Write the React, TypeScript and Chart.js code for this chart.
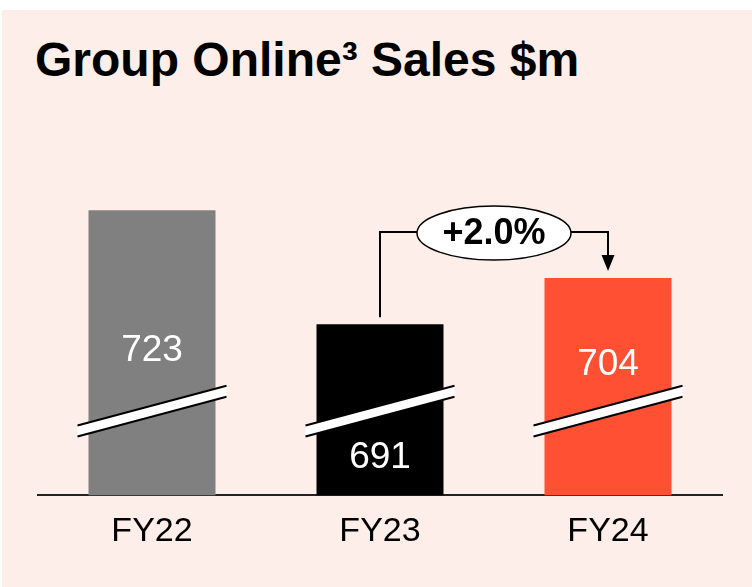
import React, { useEffect, useRef } from 'react';
import { Chart, registerables } from 'chart.js';

Chart.register(...registerables);

const categories = ['FY22', 'FY23', 'FY24'];
const salesValues = [723, 691, 704];
const barColors = ['#808080', '#000000', '#FF5033'];
const growthLabel = '+2.0%';
const titleText = 'Group Online³ Sales $m';
const axisMin = 643;
const axisMax = 754;
const breakValue = 666.6;

const FONT = '"Liberation Sans", Arial, sans-serif';

export default function App() {
  const ref = useRef<HTMLCanvasElement>(null);

  useEffect(() => {
    const canvas = ref.current!;
    const overlay = {
      id: 'overlay',
      afterDatasetsDraw(chart: any) {
        const ctx = chart.ctx as CanvasRenderingContext2D;
        const meta = chart.getDatasetMeta(0);
        const yScale = chart.scales.y;
        const breakY = yScale.getPixelForValue(breakValue);
        const slope = -40 / 150;
        const bars = meta.data.map((b: any) => b.getProps(['x', 'y', 'width'], true));
        bars.forEach((bar: any, i: number) => {
          const { x, y: top, width } = bar;
          const x0 = x - width / 2 - 11;
          const x1 = x + width / 2 + 11;
          const y0 = breakY + slope * (x0 - x);
          const y1 = breakY + slope * (x1 - x);
          const h = 5.5;
          ctx.save();
          ctx.beginPath();
          ctx.moveTo(x0, y0 - h);
          ctx.lineTo(x1, y1 - h);
          ctx.lineTo(x1, y1 + h);
          ctx.lineTo(x0, y0 + h);
          ctx.closePath();
          ctx.fillStyle = '#ffffff';
          ctx.fill();
          ctx.strokeStyle = '#000000';
          ctx.lineWidth = 2;
          ctx.beginPath();
          ctx.moveTo(x0, y0 - h);
          ctx.lineTo(x1, y1 - h);
          ctx.moveTo(x0, y0 + h);
          ctx.lineTo(x1, y1 + h);
          ctx.stroke();
          const labelY =
            breakY - top < 110 ? breakY + 47 : breakY - 20 - 0.2 * (breakY - top);
          ctx.fillStyle = '#ffffff';
          ctx.font = `37px ${FONT}`;
          ctx.textAlign = 'center';
          ctx.textBaseline = 'middle';
          ctx.fillText(String(salesValues[i]), x, labelY);
          ctx.restore();
        });

        // growth callout FY23 -> FY24
        const a = bars[1];
        const b = bars[2];
        const lineY = Math.min(a.y, b.y) - 46;
        const cx = (a.x + b.x) / 2;
        const cy = lineY + 1;
        const rx = 77;
        const ry = 27;
        ctx.save();
        ctx.strokeStyle = '#000000';
        ctx.lineWidth = 2;
        ctx.beginPath();
        ctx.moveTo(a.x, a.y - 7);
        ctx.lineTo(a.x, lineY);
        ctx.lineTo(cx - rx, lineY);
        ctx.moveTo(cx + rx, lineY);
        ctx.lineTo(b.x, lineY);
        ctx.lineTo(b.x, b.y - 22);
        ctx.stroke();
        ctx.beginPath();
        ctx.moveTo(b.x - 6.5, b.y - 23);
        ctx.lineTo(b.x + 6.5, b.y - 23);
        ctx.lineTo(b.x, b.y - 7);
        ctx.closePath();
        ctx.fillStyle = '#000000';
        ctx.fill();
        ctx.beginPath();
        ctx.ellipse(cx, cy, rx, ry, 0, 0, Math.PI * 2);
        ctx.fillStyle = '#ffffff';
        ctx.fill();
        ctx.lineWidth = 1.5;
        ctx.stroke();
        ctx.fillStyle = '#000000';
        ctx.font = `bold 36px ${FONT}`;
        ctx.textAlign = 'center';
        ctx.textBaseline = 'middle';
        ctx.fillText(growthLabel, cx, cy + 1);
        ctx.restore();
      },
    };

    const chart = new Chart(canvas, {
      type: 'bar',
      data: {
        labels: categories,
        datasets: [
          {
            data: salesValues,
            backgroundColor: barColors,
            borderWidth: 0,
            barPercentage: 0.557,
            categoryPercentage: 1,
          },
        ],
      },
      options: {
        responsive: false,
        animation: false,
        devicePixelRatio: 1,
        layout: { padding: { left: 38, right: 30, top: 100, bottom: 19 } },
        plugins: {
          legend: { display: false },
          title: { display: false },
          tooltip: { enabled: false },
        },
        scales: {
          x: {
            grid: { display: false, drawTicks: false },
            border: { display: true, color: '#222222', width: 2 },
            ticks: {
              color: '#000000',
              padding: 16,
              font: { family: FONT, size: 34 },
            },
          },
          y: {
            display: false,
            min: axisMin,
            max: axisMax,
          },
        },
      },
      plugins: [overlay],
    } as any);
    return () => chart.destroy();
  }, []);

  return (
    <div
      style={{
        position: 'fixed',
        left: 0,
        top: 0,
        width: 752,
        height: 587,
        background: '#ffffff',
        overflow: 'hidden',
      }}
    >
      <div
        style={{
          position: 'absolute',
          left: 2,
          top: 10,
          right: 0,
          bottom: 0,
          background: '#FDEEE9',
        }}
      />
      <div
        style={{
          position: 'absolute',
          left: 35,
          top: 36,
          fontFamily: FONT,
          fontWeight: 'bold',
          fontSize: 48,
          lineHeight: '48px',
          color: '#000000',
          whiteSpace: 'nowrap',
        }}
      >
        {titleText}
      </div>
      <canvas
        ref={ref}
        width={752}
        height={587}
        style={{ position: 'absolute', left: 0, top: 0 }}
      />
    </div>
  );
}
